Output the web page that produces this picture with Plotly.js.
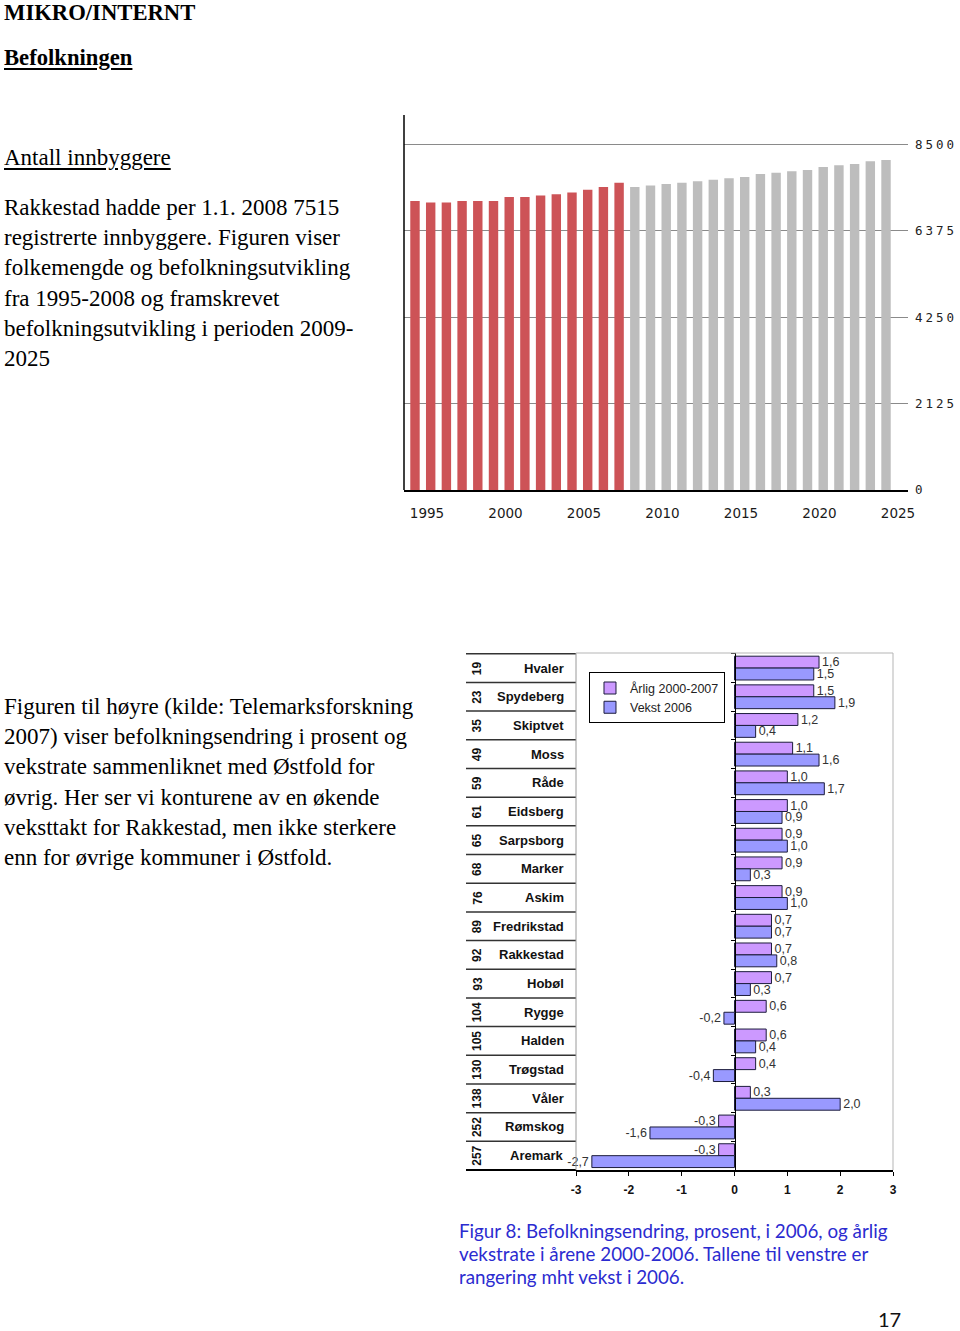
<!DOCTYPE html>
<html><head><meta charset="utf-8">
<script src="https://cdn.plot.ly/plotly-3.0.1.min.js"></script>
<style>
body{margin:0;background:#fff;}
#page{position:relative;width:960px;height:1331px;overflow:hidden;font-family:"Liberation Serif","Times New Roman",serif;color:#000;}
.t{position:absolute;left:4px;font-size:23px;line-height:30.2px;white-space:nowrap;}
.u{text-decoration:underline;text-underline-offset:3px;}
.b{font-weight:bold;}
#c1{position:absolute;left:400px;top:100px;width:560px;height:440px;}
#c2{position:absolute;left:460px;top:640px;width:450px;height:580px;}
#c1 .ytick text{letter-spacing:3px;}
.cap{position:absolute;left:459px;top:1219px;font-family:Lato,"Noto Sans",sans-serif;font-size:18.8px;line-height:23px;color:#2b2bd0;white-space:nowrap;}
.pg{position:absolute;left:878px;top:1307px;font-family:Lato,"Noto Sans",sans-serif;font-size:20px;line-height:24px;color:#111;}
</style>
</head><body>
<div id="page">
  <div class="t b" style="top:0px;line-height:25.2px;font-size:22.67px;">MIKRO/INTERNT</div>
  <div class="t b u" style="top:43px;font-size:22.67px;">Befolkningen</div>
  <div class="t u" style="top:143px;">Antall innbyggere</div>
  <div class="t" style="top:193px;">Rakkestad hadde per 1.1. 2008 7515<br>registrerte innbyggere. Figuren viser<br>folkemengde og befolkningsutvikling<br>fra 1995-2008 og framskrevet<br>befolkningsutvikling i perioden 2009-<br>2025</div>
  <div class="t" style="top:692px;">Figuren til høyre (kilde: Telemarksforskning<br>2007) viser befolkningsendring i prosent og<br>vekstrate sammenliknet med Østfold for<br>øvrig. Her ser vi konturene av en økende<br>veksttakt for Rakkestad, men ikke sterkere<br>enn for øvrige kommuner i Østfold.</div>
  <div id="c1"></div>
  <div id="c2"></div>
  <div class="cap">Figur 8: Befolkningsendring, prosent, i 2006, og årlig<br>vekstrate i årene 2000-2006. Tallene til venstre er<br>rangering mht vekst i 2006.</div>
  <div class="pg">17</div>
</div>
<script>
// ---------- Chart 1: population ----------
const histYears = [1995,1996,1997,1998,1999,2000,2001,2002,2003,2004,2005,2006,2007,2008];
const histPop   = [7107,7066,7066,7107,7107,7107,7205,7205,7238,7271,7312,7385,7451,7557];
const projYears = [2009,2010,2011,2012,2013,2014,2015,2016,2017,2018,2019,2020,2021,2022,2023,2024,2025];
const projPop   = [7451,7484,7525,7557,7590,7631,7664,7697,7771,7803,7836,7869,7943,7984,8017,8082,8115];
const popTicks  = [0,2125,4250,6375,8500];
const yearTicks = [1995,2000,2005,2010,2015,2020,2025];

Plotly.newPlot('c1', [
  {type:'bar', x:histYears, y:histPop, width:0.6, marker:{color:'#cd5357'}, hoverinfo:'x+y', showlegend:false},
  {type:'bar', x:projYears, y:projPop, width:0.6, marker:{color:'#bdbdbd'}, hoverinfo:'x+y', showlegend:false}
], {
  width:560, height:440,
  margin:{l:4, r:52, t:15, b:50},
  paper_bgcolor:'#fff', plot_bgcolor:'#fff',
  barmode:'overlay',
  xaxis:{range:[1994.3,2026.4], tickvals:yearTicks, showline:true, linecolor:'#000', linewidth:2,
         ticks:'', showgrid:false, zeroline:false, ticklabelshift:12, ticklabelstandoff:10,
         tickfont:{family:'DejaVu Sans', size:13.5, color:'#1a1a1a'}},
  yaxis:{side:'right', range:[0,9220], tickvals:popTicks, showgrid:true, gridcolor:'#8a8a8a', gridwidth:1,
         showline:false, zeroline:false, ticks:'', ticklabelstandoff:6,
         tickfont:{family:'DejaVu Sans Mono', size:12.5, color:'#222'}},
  shapes:[{type:'line', xref:'paper', yref:'paper', x0:0, x1:0, y0:0, y1:1, line:{color:'#000', width:1.5}}]
}, {staticPlot:true});

// ---------- Chart 2: growth by municipality ----------
const munis  = ['Hvaler','Spydeberg','Skiptvet','Moss','Råde','Eidsberg','Sarpsborg','Marker','Askim','Fredrikstad','Rakkestad','Hobøl','Rygge','Halden','Trøgstad','Våler','Rømskog','Aremark'];
const ranks  = [19,23,35,49,59,61,65,68,76,89,92,93,104,105,130,138,252,257];
const arlig  = [1.6,1.5,1.2,1.1,1.0,1.0,0.9,0.9,0.9,0.7,0.7,0.7,0.6,0.6,0.4,0.3,-0.3,-0.3];
const vekst  = [1.5,1.9,0.4,1.6,1.7,0.9,1.0,0.3,1.0,0.7,0.8,0.3,-0.2,0.4,-0.4,2.0,-1.6,-2.7];
const seriesNames = ['Årlig 2000-2007','Vekst 2006'];
const xTicks = [-3,-2,-1,0,1,2,3];
const xTickText = ['-3','-2','-1','0','1','2','3'];
const fmt = v => v.toFixed(1).replace('.', ',');

const tableLeft = -0.347, rankX = -0.312, nameX = -0.03;
const shapes2 = [];
for (let i = 0; i <= munis.length - 1; i++) {
  shapes2.push({type:'line', xref:'paper', yref:'y', x0:tableLeft, x1:0, y0:i-0.5, y1:i-0.5, line:{color:'#333', width:1.5}});
}
shapes2.push({type:'line', xref:'paper', yref:'paper', x0:tableLeft, x1:0, y0:0, y1:0, line:{color:'#000', width:2}});
shapes2.push({type:'line', xref:'paper', yref:'paper', x0:0, x1:0, y0:0, y1:1, line:{color:'#9a9a9a', width:1}});
shapes2.push({type:'line', xref:'paper', yref:'paper', x0:0, x1:1, y0:1, y1:1, line:{color:'#b5b5b5', width:1}});
shapes2.push({type:'line', xref:'paper', yref:'paper', x0:1, x1:1, y0:0, y1:1, line:{color:'#b5b5b5', width:1}});

const ann2 = [];
munis.forEach((m, i) => {
  ann2.push({xref:'paper', yref:'y', x:nameX, y:m, text:m, showarrow:false, xanchor:'right', yanchor:'middle',
             font:{family:'Liberation Sans', size:13, color:'#111', weight:'bold'}});
  ann2.push({xref:'paper', yref:'y', x:rankX, y:m, text:String(ranks[i]), showarrow:false, textangle:-90,
             xanchor:'center', yanchor:'middle', font:{family:'Liberation Sans', size:12, color:'#111', weight:'bold'}});
});

Plotly.newPlot('c2', [
  {type:'bar', orientation:'h', name:seriesNames[0], y:munis, x:arlig, text:arlig.map(fmt), textposition:'outside',
   constraintext:'none', cliponaxis:false, textfont:{family:'Liberation Sans', size:12.5, color:'#333'},
   marker:{color:'#cc99ff', line:{color:'#1c1c3c', width:1}}},
  {type:'bar', orientation:'h', name:seriesNames[1], y:munis, x:vekst, text:vekst.map(fmt), textposition:'outside',
   constraintext:'none', cliponaxis:false, textfont:{family:'Liberation Sans', size:12.5, color:'#333'},
   marker:{color:'#9999ff', line:{color:'#1c1c3c', width:1}}}
], {
  width:450, height:580,
  margin:{l:116, r:17, t:13, b:50},
  paper_bgcolor:'rgba(0,0,0,0)', plot_bgcolor:'#fff',
  barmode:'group', bargap:0.17, bargroupgap:0,
  xaxis:{range:[-3,3], tickvals:xTicks, ticktext:xTickText, ticks:'outside', ticklen:4, tickcolor:'#000', showline:true, linecolor:'#000', linewidth:2,
         showgrid:false, zeroline:false, ticklabelstandoff:4,
         tickfont:{family:'Liberation Sans', size:12, color:'#111', weight:'bold'}},
  yaxis:{type:'category', autorange:'reversed', anchor:'free', position:0.5, showline:true, linecolor:'#000', linewidth:1.5,
         ticks:'outside', ticklen:4, tickcolor:'#000', tickson:'boundaries', showticklabels:false, showgrid:false, zeroline:false},
  legend:{x:0.041, y:0.9625, xanchor:'left', yanchor:'top', bgcolor:'#fff', bordercolor:'#000', borderwidth:1,
          traceorder:'normal', itemwidth:30, font:{family:'Liberation Sans', size:12.5, color:'#222'}},
  shapes:shapes2,
  annotations:ann2
}, {staticPlot:true});
</script>
</body></html>
